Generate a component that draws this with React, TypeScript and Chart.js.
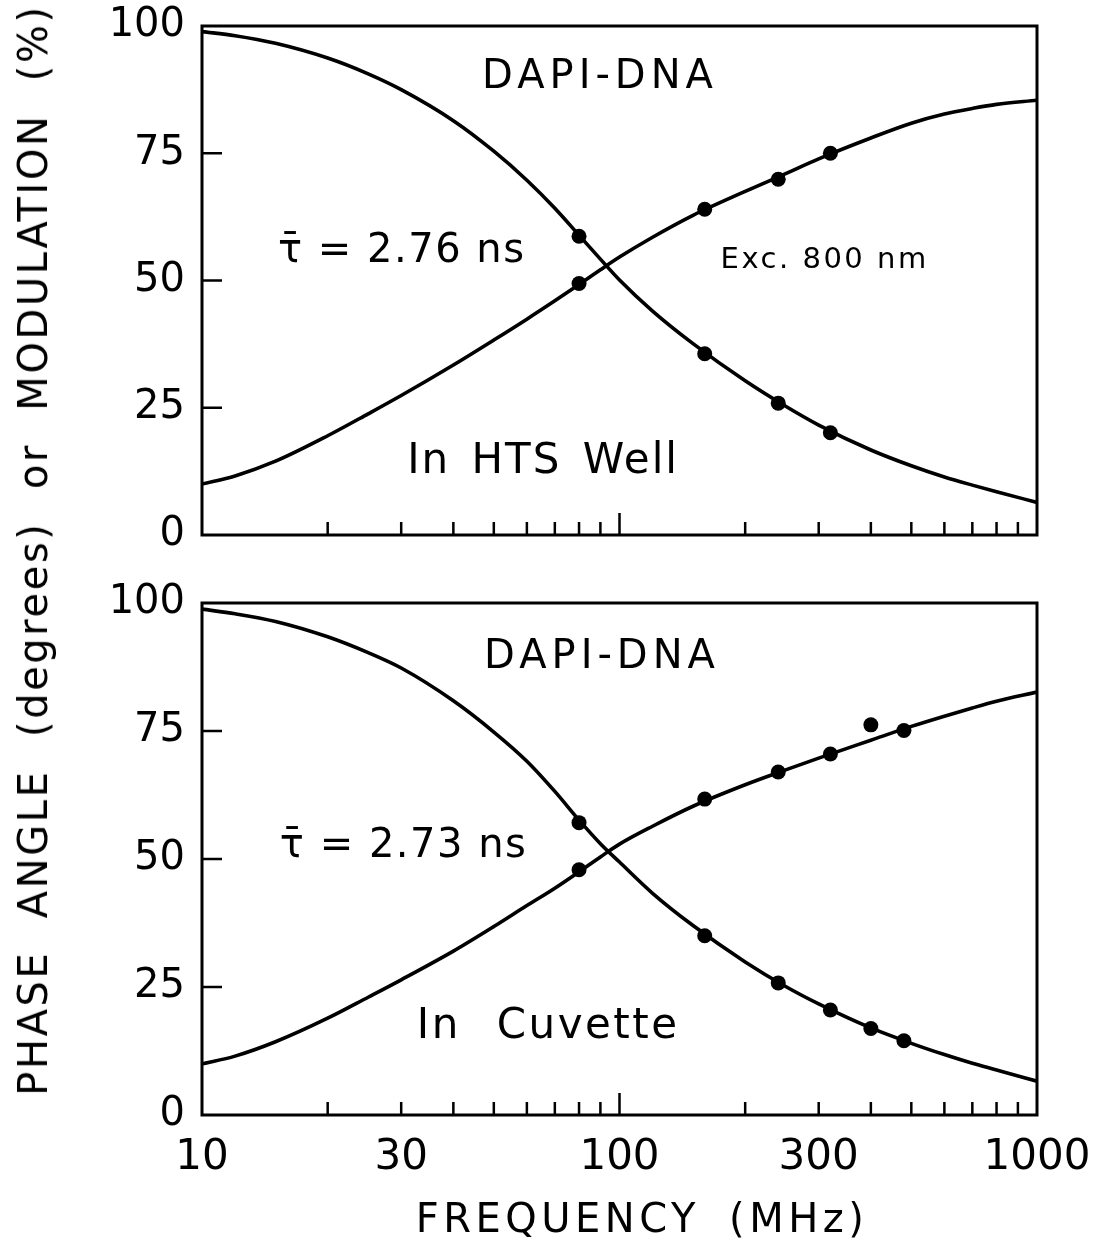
import React, { useEffect, useRef } from 'react';
import { Chart, registerables } from 'chart.js';

Chart.register(...registerables);

const FONT = "'DejaVu Sans', sans-serif";

const curveFreqs = [10, 12, 15, 20, 25, 30, 40, 50, 60, 70, 80, 90, 100, 120, 150, 200, 250, 300, 400, 500, 600, 700, 800, 1000];

// Upper panel (In HTS Well) fitted curves
const topPhaseCurve = [10.0, 11.6, 14.5, 19.5, 23.8, 27.4, 33.4, 38.3, 42.4, 46.0, 49.2, 52.1, 54.6, 58.5, 62.8, 67.5, 71.0, 73.9, 78.0, 80.9, 82.7, 83.8, 84.6, 85.4];
const topModCurve = [98.9, 98.1, 96.6, 93.7, 90.6, 87.5, 81.4, 75.4, 69.7, 64.2, 58.9, 54.2, 50.1, 44.0, 37.6, 30.3, 25.3, 21.6, 16.7, 13.6, 11.4, 9.8, 8.5, 6.4];

// Lower panel (In Cuvette) fitted curves
const bottomPhaseCurve = [10.0, 11.5, 14.3, 18.9, 23.0, 26.4, 32.0, 36.8, 40.9, 44.3, 47.5, 50.4, 52.9, 56.4, 60.3, 64.5, 67.4, 69.7, 73.2, 75.9, 77.9, 79.5, 80.8, 82.6];
const bottomModCurve = [98.8, 97.9, 96.4, 93.4, 90.3, 87.3, 80.9, 74.8, 69.1, 63.2, 57.6, 53.0, 49.4, 43.3, 37.0, 29.9, 25.1, 21.7, 17.0, 14.0, 11.8, 10.1, 8.8, 6.6];

// Measured points
const topDataFreqs = [80, 160, 240, 320];
const topPhaseData = [49.4, 64.0, 69.9, 75.0];
const topModData = [58.7, 35.6, 25.9, 20.1];

const bottomDataFreqs = [80, 160, 240, 320, 400, 480];
const bottomPhaseData = [47.9, 61.7, 67.0, 70.5, 76.2, 75.1];
const bottomModData = [57.1, 35.0, 25.8, 20.5, 16.9, 14.5];

// Axis ticks
const xTickLabels = [10, 30, 100, 300, 1000];
const xMinorTicks = [20, 30, 40, 50, 60, 70, 80, 90, 200, 300, 400, 500, 600, 700, 800, 900];
const xMajorTicks = [100];
const yTickValues = [0, 25, 50, 75, 100];

type Note = { text: string; f: number; v: number; size: number; ls: number; ws?: number };

const topNotes: Note[] = [
  { text: 'DAPI-DNA', f: 89.8, v: 87.8, size: 40, ls: 5 },
  { text: '\u03C4\u0304 = 2.76 ns', f: 30.1, v: 53.6, size: 40, ls: 1.5 },
  { text: 'Exc. 800 nm', f: 310, v: 52.5, size: 29, ls: 2.5 },
  { text: 'In HTS Well', f: 65.6, v: 12.2, size: 42, ls: 2, ws: 6 },
];

const bottomNotes: Note[] = [
  { text: 'DAPI-DNA', f: 90.8, v: 87.3, size: 40, ls: 5 },
  { text: '\u03C4\u0304 = 2.73 ns', f: 30.4, v: 50.4, size: 40, ls: 1.5 },
  { text: 'In Cuvette', f: 67.5, v: 15.0, size: 42, ls: 2.5, ws: 20 },
];

function makeDecorPlugin(notes: Note[]) {
  return {
    id: 'panelDecor',
    afterDraw(chart: any) {
      const { ctx, chartArea: a } = chart;
      const xs = chart.scales.x;
      const ys = chart.scales.y;
      ctx.save();
      ctx.strokeStyle = '#000';
      ctx.lineCap = 'butt';
      ctx.lineWidth = 2.5;
      ctx.beginPath();
      xMinorTicks.forEach((v) => {
        const p = xs.getPixelForValue(v);
        ctx.moveTo(p, a.bottom);
        ctx.lineTo(p, a.bottom - 13);
      });
      xMajorTicks.forEach((v) => {
        const p = xs.getPixelForValue(v);
        ctx.moveTo(p, a.bottom);
        ctx.lineTo(p, a.bottom - 22);
      });
      yTickValues
        .filter((v) => v > 0 && v < 100)
        .forEach((v) => {
          const p = ys.getPixelForValue(v);
          ctx.moveTo(a.left, p);
          ctx.lineTo(a.left + 20, p);
        });
      ctx.stroke();
      ctx.lineWidth = 3;
      ctx.strokeRect(a.left, a.top, a.right - a.left, a.bottom - a.top);

      ctx.fillStyle = '#000';
      ctx.textAlign = 'center';
      ctx.textBaseline = 'alphabetic';
      notes.forEach((n) => {
        ctx.font = `${n.size}px ${FONT}`;
        (ctx as any).letterSpacing = `${n.ls}px`;
        (ctx as any).wordSpacing = `${n.ws || 0}px`;
        ctx.fillText(n.text, xs.getPixelForValue(n.f), ys.getPixelForValue(n.v));
      });
      ctx.restore();
    },
  };
}

type Panel = {
  phaseCurve: number[];
  modCurve: number[];
  dataFreqs: number[];
  phaseData: number[];
  modData: number[];
  notes: Note[];
  showX: boolean;
  padding: { left: number; right: number; top: number; bottom: number };
  xHeight: number;
};

function zeroPadding(s: any) {
  s.paddingTop = 0;
  s.paddingBottom = 0;
  s.paddingLeft = 0;
  s.paddingRight = 0;
}

function buildChart(canvas: HTMLCanvasElement, p: Panel) {
  const pts = (xs: number[], ys: number[]) => xs.map((x, i) => ({ x, y: ys[i] }));
  const dotStyle = {
    showLine: false,
    pointRadius: 7.5,
    pointBackgroundColor: '#000',
    pointBorderColor: '#000',
    pointBorderWidth: 0,
    borderColor: '#000',
    backgroundColor: '#000',
  };
  const lineStyle = {
    borderColor: '#000',
    borderWidth: 3.6,
    pointRadius: 0,
    cubicInterpolationMode: 'monotone' as const,
    fill: false,
  };
  return new Chart(canvas, {
    type: 'line',
    data: {
      datasets: [
        { label: 'phase data', data: pts(p.dataFreqs, p.phaseData), ...dotStyle },
        { label: 'modulation data', data: pts(p.dataFreqs, p.modData), ...dotStyle },
        { label: 'phase fit', data: pts(curveFreqs, p.phaseCurve), ...lineStyle },
        { label: 'modulation fit', data: pts(curveFreqs, p.modCurve), ...lineStyle },
      ],
    },
    options: {
      animation: false,
      responsive: false,
      devicePixelRatio: 1,
      events: [],
      layout: { padding: p.padding },
      plugins: {
        legend: { display: false },
        tooltip: { enabled: false },
        title: { display: false },
      },
      scales: {
        x: {
          type: 'logarithmic',
          min: 10,
          max: 1000,
          display: p.showX,
          grid: { display: false, drawTicks: false },
          border: { display: false },
          afterBuildTicks: (s: any) => {
            s.ticks = xTickLabels.map((v) => ({ value: v }));
          },
          afterFit: (s: any) => {
            s.height = p.xHeight;
            zeroPadding(s);
          },
          ticks: {
            autoSkip: false,
            maxRotation: 0,
            minRotation: 0,
            padding: 18,
            color: '#000',
            font: { family: FONT, size: 42 },
            callback: (v: any) => String(v),
          },
        },
        y: {
          min: 0,
          max: 100,
          grid: { display: false, drawTicks: false },
          border: { display: false },
          afterFit: (s: any) => {
            s.width = 202;
            zeroPadding(s);
          },
          ticks: {
            stepSize: 25,
            padding: 17,
            color: '#000',
            font: { family: FONT, size: 40 },
          },
        },
      },
    },
    plugins: [makeDecorPlugin(p.notes)],
  } as any);
}

export default function App() {
  const topRef = useRef<HTMLCanvasElement>(null);
  const botRef = useRef<HTMLCanvasElement>(null);

  useEffect(() => {
    const c1 = buildChart(topRef.current!, {
      phaseCurve: topPhaseCurve,
      modCurve: topModCurve,
      dataFreqs: topDataFreqs,
      phaseData: topPhaseData,
      modData: topModData,
      notes: topNotes,
      showX: false,
      padding: { left: 0, right: 70, top: 26, bottom: 45 },
      xHeight: 0,
    });
    const c2 = buildChart(botRef.current!, {
      phaseCurve: bottomPhaseCurve,
      modCurve: bottomModCurve,
      dataFreqs: bottomDataFreqs,
      phaseData: bottomPhaseData,
      modData: bottomModData,
      notes: bottomNotes,
      showX: true,
      padding: { left: 0, right: 70, top: 23, bottom: 0 },
      xHeight: 137,
    });
    return () => {
      c1.destroy();
      c2.destroy();
    };
  }, []);

  return (
    <div
      style={{
        position: 'absolute',
        left: 0,
        top: 0,
        width: 1107,
        height: 1252,
        background: '#fff',
        overflow: 'hidden',
        fontFamily: FONT,
        color: '#000',
      }}
    >
      <canvas
        ref={topRef}
        width={1107}
        height={580}
        style={{ position: 'absolute', left: 0, top: 0, width: 1107, height: 580 }}
      />
      <canvas
        ref={botRef}
        width={1107}
        height={672}
        style={{ position: 'absolute', left: 0, top: 580, width: 1107, height: 672 }}
      />
      <div
        style={{
          position: 'absolute',
          left: 33,
          top: 550,
          transform: 'translate(-50%, -50%) rotate(-90deg)',
          fontSize: 40,
          lineHeight: '40px',
          letterSpacing: '2.6px',
          wordSpacing: '17px',
          whiteSpace: 'nowrap',
        }}
      >
        PHASE ANGLE (degrees) or MODULATION (%)
      </div>
      <div
        style={{
          position: 'absolute',
          left: 642,
          top: 1198,
          transform: 'translateX(-50%)',
          fontSize: 40,
          lineHeight: '40px',
          letterSpacing: '4.5px',
          wordSpacing: '12px',
          whiteSpace: 'nowrap',
        }}
      >
        FREQUENCY (MHz)
      </div>
    </div>
  );
}
